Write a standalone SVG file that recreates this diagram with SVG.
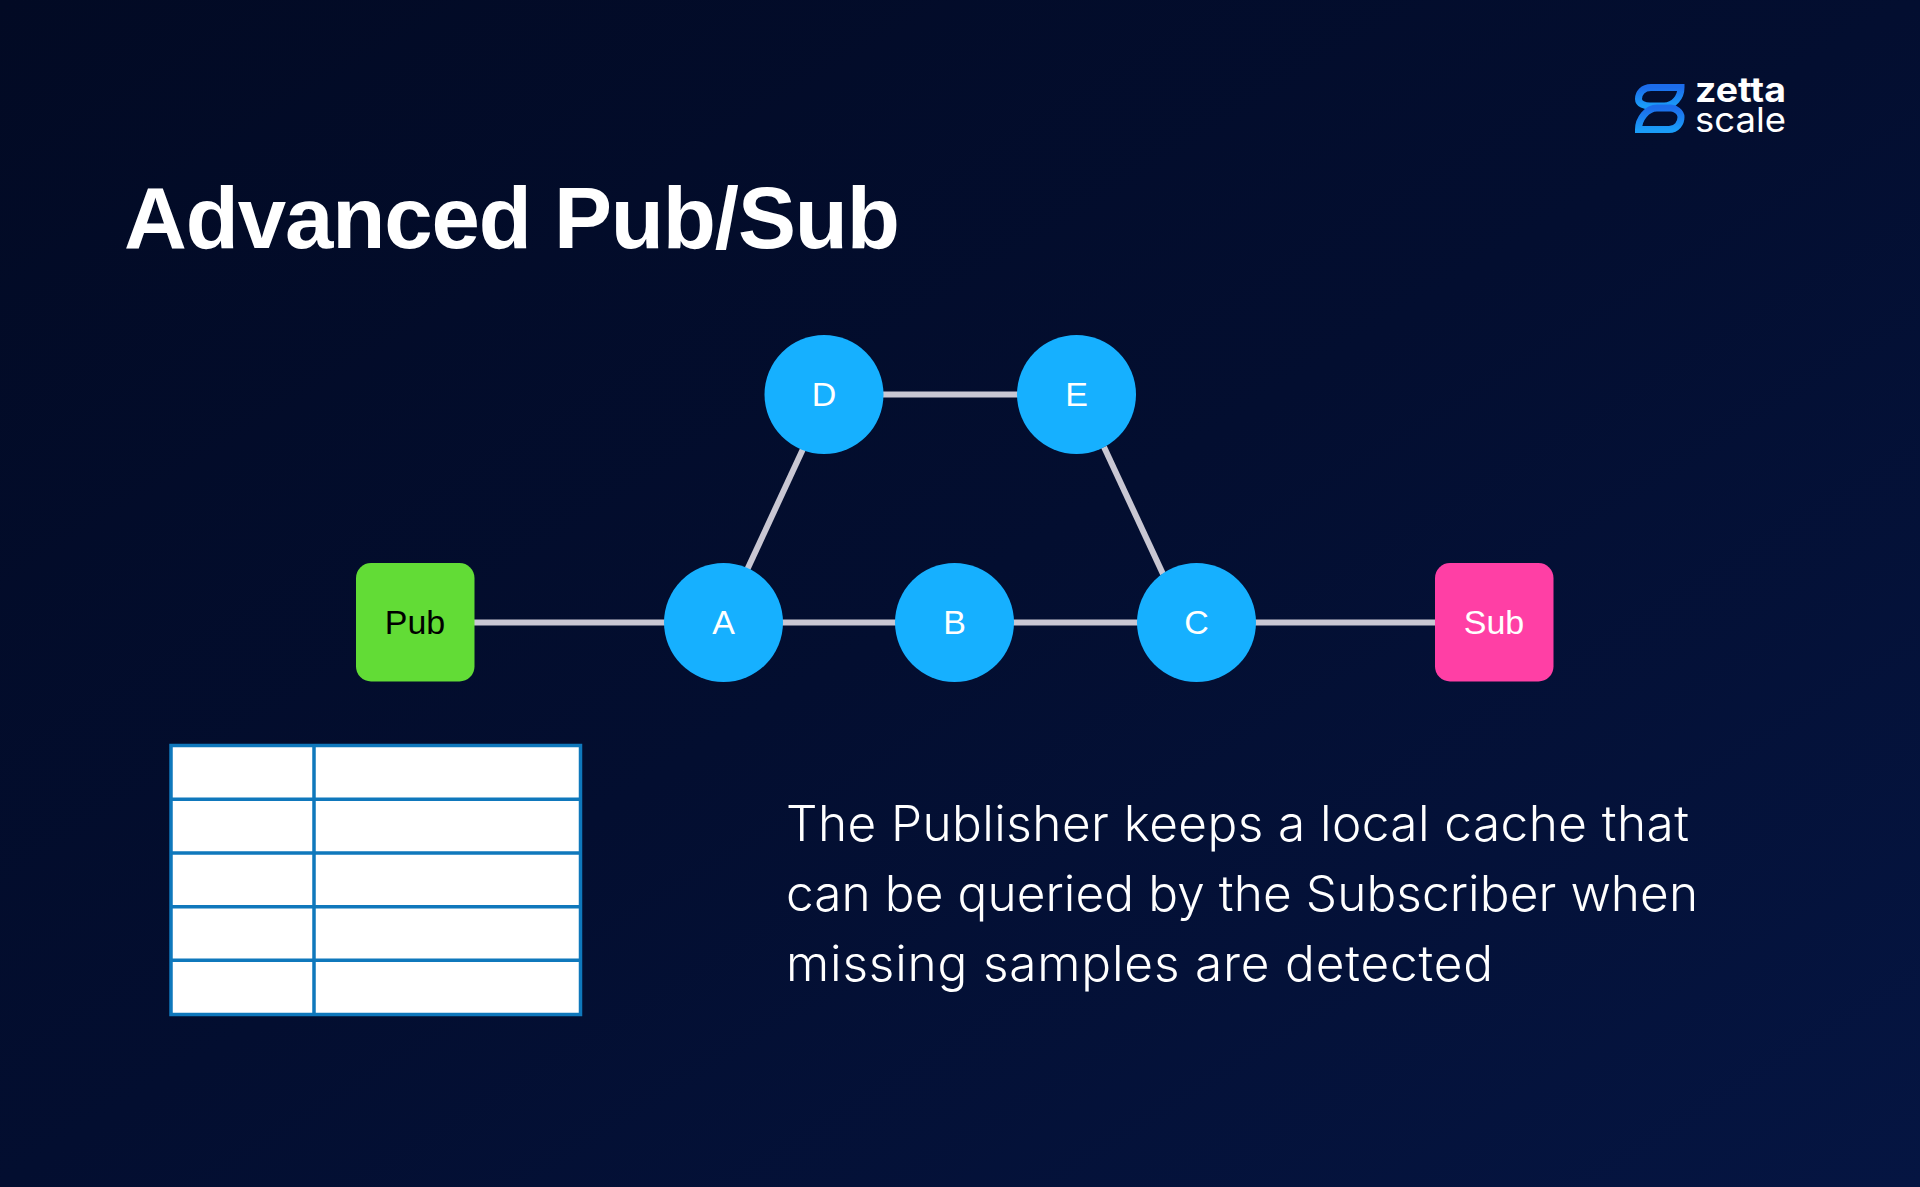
<svg xmlns="http://www.w3.org/2000/svg" width="1920" height="1187" viewBox="0 0 1920 1187">
<style>
.edge{stroke:#c9c7d3;stroke-width:6;fill:none}
.n{fill:#16b0ff}
.lbl{font-family:"Liberation Sans",Arial,sans-serif;font-size:34px;text-anchor:middle}
.w{fill:#fff}
.body{font-family:"Inter","Noto Sans",sans-serif;font-size:49.500px;font-weight:300;fill:#fff}
.grid{stroke:#0f78bc;stroke-width:3.5;fill:none}
</style>
<defs>
<linearGradient id="bg" x1="0" y1="0" x2="1" y2="1"><stop offset="0" stop-color="#020a24"/><stop offset="0.5" stop-color="#030e30"/><stop offset="1" stop-color="#051542"/></linearGradient>
<linearGradient id="logo" x1="0" y1="0" x2="0" y2="1"><stop offset="0" stop-color="#1c6ceb"/><stop offset="1" stop-color="#1a9cf8"/></linearGradient>
</defs>
<rect width="1920" height="1187" fill="url(#bg)"/>
<g id="logo-mark" fill="none" stroke="url(#logo)" stroke-width="7">
<path d="M1681 87.500H1651C1643 87.500 1638.500 93 1638.500 99C1638.500 104 1645 106 1650 106H1664C1674 106 1681 97 1681 87.500Z"/>
<path d="M1638.500 129.500H1669C1677 129.500 1681 123 1681 117C1681 112 1675 108 1671 108H1657C1647 108 1638.500 119 1638.500 129.500Z"/>
</g>
<g id="logo-text" fill="#fff" font-family="Inter,sans-serif">
<text x="1695" y="102" font-size="34" font-weight="700" textLength="91" lengthAdjust="spacingAndGlyphs">zetta</text>
<text x="1695" y="132" font-size="34" font-weight="400" textLength="91" lengthAdjust="spacingAndGlyphs">scale</text>
</g>
<text id="title" x="124" y="248" fill="#fff" font-family="'Liberation Sans',Arial,sans-serif" font-weight="700" font-size="87" textLength="776">Advanced Pub/Sub</text>
<g id="connectors">
<line class="edge" x1="474" y1="622.500" x2="1435" y2="622.500"/>
<line class="edge" x1="747" y1="570" x2="803" y2="449"/>
<line class="edge" x1="880" y1="394.500" x2="1020" y2="394.500"/>
<line class="edge" x1="1104" y1="447" x2="1163" y2="574"/>
</g>
<g id="pub"><rect x="356" y="563" width="118.500" height="118.500" rx="15" fill="#62dc36"/><text class="lbl" x="415" y="634" fill="#000">Pub</text></g>
<g id="sub"><rect x="1435" y="563" width="118.500" height="118.500" rx="15" fill="#ff3fa5"/><text class="lbl w" x="1494" y="634">Sub</text></g>
<g id="a"><circle class="n" cx="723.500" cy="622.500" r="59.500"/><text class="lbl w" x="723.500" y="634">A</text></g>
<g id="b"><circle class="n" cx="954.500" cy="622.500" r="59.500"/><text class="lbl w" x="954.500" y="634">B</text></g>
<g id="c"><circle class="n" cx="1196.500" cy="622.500" r="59.500"/><text class="lbl w" x="1196.500" y="634">C</text></g>
<g id="d"><circle class="n" cx="824" cy="394.500" r="59.500"/><text class="lbl w" x="824" y="406">D</text></g>
<g id="e"><circle class="n" cx="1076.500" cy="394.500" r="59.500"/><text class="lbl w" x="1076.500" y="406">E</text></g>
<g id="cache">
<rect x="171" y="745.500" width="409.500" height="269" fill="#fff"/>
<rect class="grid" x="171" y="745.500" width="409.500" height="269"/>
<path class="grid" d="M314 745.500V1014.500M171 799.300H580.500M171 853H580.500M171 906.700H580.500M171 960.300H580.500"/>
</g>
<g id="caption" class="body">
<text x="786" y="841" textLength="903">The Publisher keeps a local cache that</text>
<text x="786" y="911" textLength="912">can be queried by the Subscriber when</text>
<text x="786" y="981" textLength="707">missing samples are detected</text>
</g>
</svg>
